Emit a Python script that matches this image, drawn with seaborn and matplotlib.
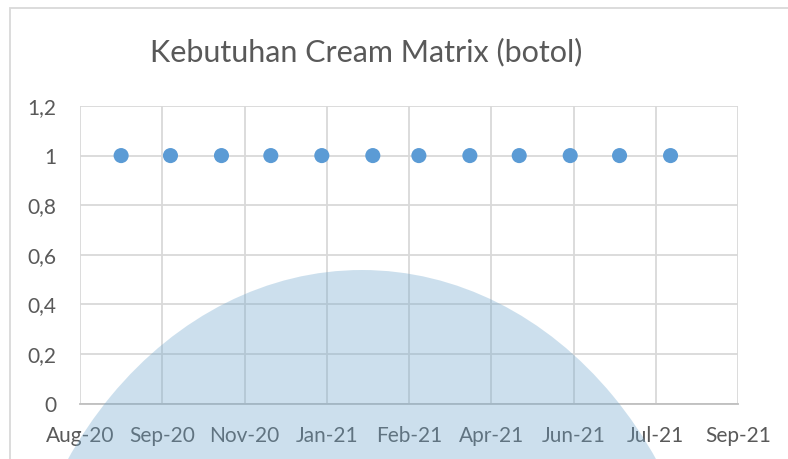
import matplotlib
matplotlib.use("Agg")
import matplotlib.pyplot as plt
import matplotlib.dates as mdates
from matplotlib.patches import Ellipse, Rectangle
import numpy as np
import pandas as pd
import seaborn as sns

# data
bulan = pd.date_range("2020-09-01", "2021-08-01", freq="MS")
kebutuhan = [1, 1, 1, 1, 1, 1, 1, 1, 1, 1, 1, 1]
x_ticks = pd.date_range("2020-08-07", periods=9, freq="50D")
y_ticks = [0, 0.2, 0.4, 0.6, 0.8, 1.0, 1.2]
y_labels = ["0", "0,2", "0,4", "0,6", "0,8", "1", "1,2"]

df = pd.DataFrame({"bulan": bulan, "kebutuhan": kebutuhan})

sns.set_theme(style="white")
plt.rcParams["font.family"] = ["Lato", "DejaVu Sans"]

txt = "#595959"
grid = "#d9d9d9"

fig = plt.figure(figsize=(7.88, 4.59), dpi=100)
ax = fig.add_axes([80 / 788, 1 - 403.5 / 459, 658 / 788, 297.5 / 459])

sns.scatterplot(data=df, x="bulan", y="kebutuhan", ax=ax, s=118,
                color="#5b9bd5", edgecolor="none", zorder=3, clip_on=False)

ax.set_xlim(x_ticks[0], x_ticks[-1])
ax.set_ylim(0, 1.2)
ax.set_xticks(x_ticks)
ax.xaxis.set_major_formatter(mdates.DateFormatter("%b-%y"))
ax.set_yticks(y_ticks)
ax.set_yticklabels(y_labels)

ax.grid(True, color=grid, lw=1.3)
ax.set_axisbelow(True)
for side in ["top", "right", "left"]:
    ax.spines[side].set_visible(False)
ax.spines["bottom"].set_color("#bfbfbf")
ax.spines["bottom"].set_linewidth(1.3)

ax.tick_params(axis="both", length=0, labelsize=15, labelcolor=txt)
ax.tick_params(axis="x", pad=16)
ax.tick_params(axis="y", pad=17)
ax.set_xlabel("")
ax.set_ylabel("")

fig.text(366 / 788, 1 - 52 / 459, "Kebutuhan Cream Matrix (botol)",
         ha="center", va="center", fontsize=22, color=txt)

# chart frame
fig.patches.append(Rectangle((9.5 / 788, -0.1), 1.1, 1 - 7.5 / 459 + 0.1,
                             transform=fig.transFigure, fill=False,
                             edgecolor=grid, lw=1.3, zorder=0))

# watermark
fig.patches.append(Ellipse((362 / 788, 1 - 700 / 459), 2 * 355 / 788, 2 * 430 / 459,
                           transform=fig.transFigure, facecolor="#6fa6cc",
                           edgecolor="none", alpha=0.35, zorder=10))

fig.savefig("out.png", dpi=100)
